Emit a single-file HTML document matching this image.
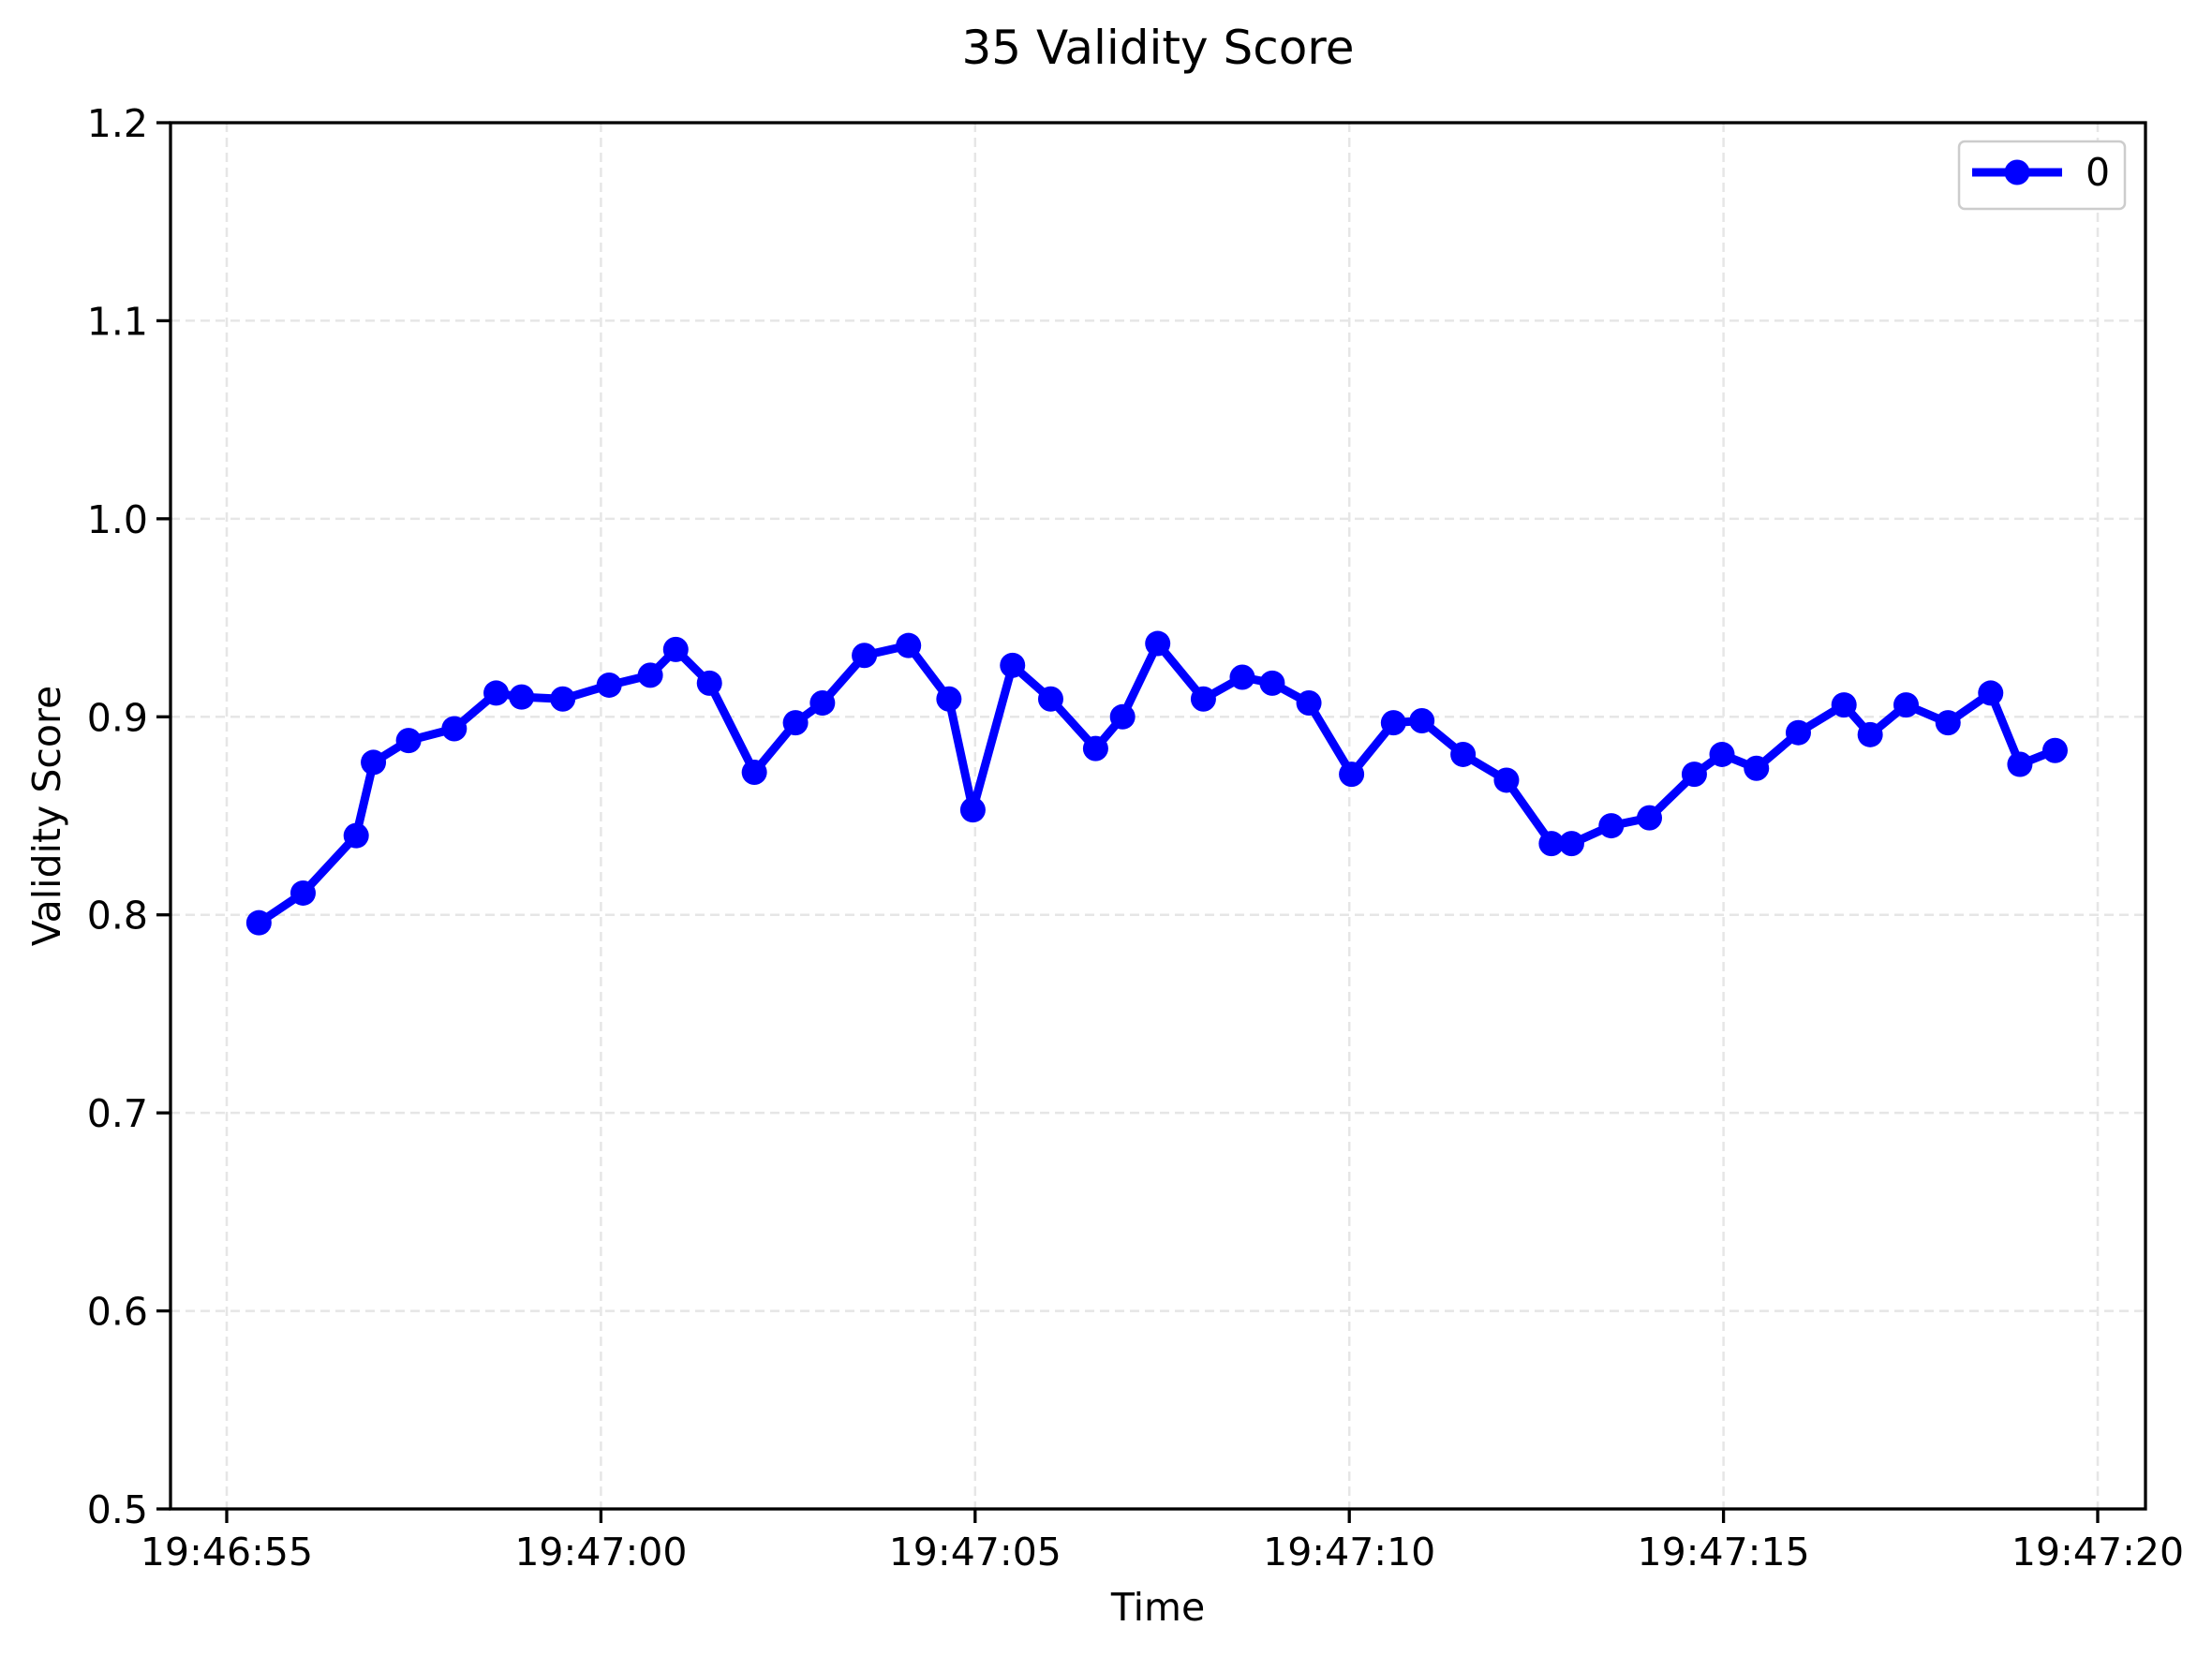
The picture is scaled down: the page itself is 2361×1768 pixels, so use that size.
<!DOCTYPE html>
<html><head><meta charset="utf-8"><style>
body{margin:0;background:#fff}
svg{display:block;font-family:"DejaVu Sans","Liberation Sans",sans-serif}
</style></head><body>
<svg id="chart" width="2361" height="1768" viewBox="0 0 2361 1768" xmlns="http://www.w3.org/2000/svg">
<rect width="2361" height="1768" fill="#fff"/>
<text x="1236" y="68" font-size="50" text-anchor="middle">35 Validity Score</text>
<g id="grid"></g>
<g id="series"></g>
<g id="axes"></g>
<text x="1236" y="1730" font-size="41" text-anchor="middle">Time</text>
<text x="0" y="0" font-size="41" text-anchor="middle" transform="translate(64,871) rotate(-90)">Validity Score</text>
<g>
<rect x="2091" y="151" width="177" height="72" rx="6" fill="#fff" stroke="#ccc" stroke-width="2.5"/>
<line x1="2105" y1="184" x2="2201" y2="184" stroke="#0000ff" stroke-width="9"/>
<circle cx="2153" cy="184" r="13.5" fill="#0000ff"/>
<text x="2226" y="198" font-size="41">0</text>
</g>
</svg>
<script>
const times = [0.43,1.02,1.73,1.96,2.43,3.04,3.60,3.94,4.49,5.11,5.66,6.00,6.45,7.05,7.60,7.96,8.52,9.11,9.65,9.97,10.50,11.01,11.61,11.97,12.44,13.05,13.57,13.97,14.46,15.03,15.59,15.97,16.52,17.10,17.70,17.97,18.50,19.01,19.61,19.98,20.44,21.00,21.61,21.96,22.44,23.00,23.57,23.96,24.43];
const values = [0.796,0.811,0.840,0.877,0.888,0.894,0.912,0.910,0.909,0.916,0.921,0.934,0.917,0.872,0.897,0.907,0.931,0.936,0.909,0.853,0.926,0.909,0.884,0.900,0.937,0.909,0.920,0.917,0.907,0.871,0.897,0.898,0.881,0.868,0.836,0.836,0.845,0.849,0.871,0.881,0.874,0.892,0.906,0.891,0.906,0.897,0.912,0.876,0.883];
const xTickSecs = [0,5,10,15,20,25];
const xTickLabels = ["19:46:55","19:47:00","19:47:05","19:47:10","19:47:15","19:47:20"];
const yTicks = [0.5,0.6,0.7,0.8,0.9,1.0,1.1,1.2];

const L=182,R=2290,T=131,B=1611;
const X=s=>242+s*79.88;
const Y=v=>B-(v-0.5)/0.7*(B-T);
const NS="http://www.w3.org/2000/svg";
function mk(tag,attrs,parent){const e=document.createElementNS(NS,tag);for(const k in attrs)e.setAttribute(k,attrs[k]);parent.appendChild(e);return e;}
const grid=document.getElementById('grid'),axes=document.getElementById('axes'),series=document.getElementById('series');
yTicks.forEach((v,i)=>{
  const y=Y(v);
  if(i>0&&i<yTicks.length-1){const g=mk('line',{x1:L,x2:R,y1:y,y2:y,stroke:'#e6e6e6','stroke-width':2.5,'stroke-dasharray':'10,6'},grid);
  
  }
  mk('line',{x1:L-15,x2:L,y1:y,y2:y,stroke:'#000','stroke-width':3.3},axes);
  const t=mk('text',{x:L-24,y:y+15,'font-size':41,'text-anchor':'end'},axes);t.textContent=v.toFixed(1);
  
  
});
xTickSecs.forEach((s,i)=>{
  const x=X(s);
  const g=mk('line',{x1:x,x2:x,y1:T,y2:B,stroke:'#e6e6e6','stroke-width':2.5,'stroke-dasharray':'10,6'},grid);
  
  
  mk('line',{x1:x,x2:x,y1:B,y2:B+15,stroke:'#000','stroke-width':3.3},axes);
  const t=mk('text',{x:x,y:B+60,'font-size':41,'text-anchor':'middle'},axes);t.textContent=xTickLabels[i];
  
  
});
mk('rect',{x:L,y:T,width:R-L,height:B-T,fill:'none',stroke:'#000','stroke-width':3.3},axes);
const pts=times.map((t,i)=>X(t)+','+Y(values[i])).join(' ');
const pl=mk('polyline',{points:pts,fill:'none',stroke:'#0000ff','stroke-width':9,'stroke-linejoin':'round'},series);


times.forEach((t,i)=>{
  const c=mk('circle',{cx:X(t),cy:Y(values[i]),r:13.5,fill:'#0000ff'},series);
  
  
});
</script>
</body></html>
